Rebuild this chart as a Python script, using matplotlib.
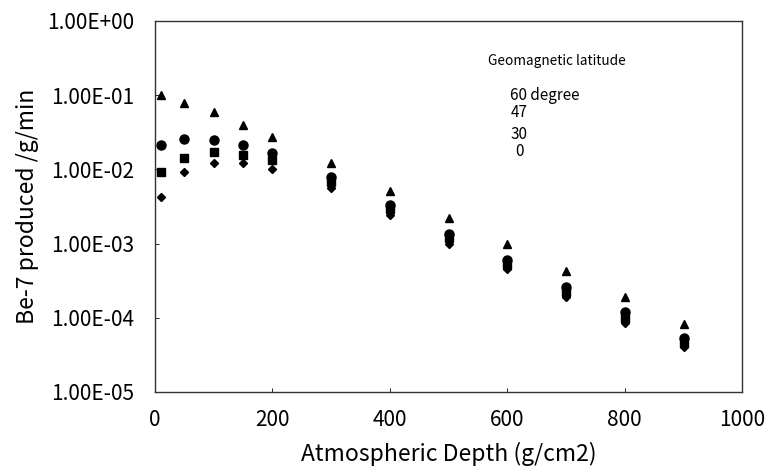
import matplotlib
matplotlib.use('Agg')
import matplotlib.pyplot as plt
from matplotlib.ticker import FixedLocator, FuncFormatter, NullLocator

plt.rcParams['font.family'] = ['Noto Sans CJK JP', 'DejaVu Sans']

# Data: Be-7 production vs atmospheric depth
depth = [10, 50, 100, 150, 200, 300, 400, 500, 600, 700, 800, 900]
lat60 = [0.1, 0.079, 0.059, 0.040, 0.0276, 0.0123, 0.0051, 0.0022, 0.001, 0.00042, 0.00019, 0.000083]
lat47 = [0.021, 0.0257, 0.025, 0.021, 0.0165, 0.0080, 0.0033, 0.00135, 0.0006, 0.00026, 0.000118, 0.000054]
lat30 = [0.0091, 0.0144, 0.017, 0.0155, 0.0135, 0.0068, 0.0029, 0.0012, 0.00052, 0.000225, 0.0001, 0.000046]
lat0 = [0.0042, 0.0091, 0.012, 0.012, 0.0102, 0.0056, 0.0024, 0.001, 0.00045, 0.000192, 0.000085, 0.000040]

yticks = [1e-5, 1e-4, 1e-3, 1e-2, 1e-1, 1e0]
xticks = [0, 200, 400, 600, 800, 1000]

fig = plt.figure(figsize=(7.69, 4.66), dpi=100)
ax = fig.add_axes([0.2016, 0.159, 0.7636, 0.796])

ax.plot(depth, lat60, linestyle='none', marker='^', color='black', markersize=6)
ax.plot(depth, lat47, linestyle='none', marker='o', color='black', markersize=6.5)
ax.plot(depth, lat30, linestyle='none', marker='s', color='black', markersize=5.5)
ax.plot(depth, lat0, linestyle='none', marker='D', color='black', markersize=4.5)

ax.set_yscale('log')
ax.set_ylim(1e-5, 1)
ax.set_xlim(0, 1000)
ax.yaxis.set_major_locator(FixedLocator(yticks))
ax.yaxis.set_minor_locator(NullLocator())
ax.yaxis.set_major_formatter(FuncFormatter(lambda v, p: '%.2E' % v))
ax.xaxis.set_major_locator(FixedLocator(xticks))

ax.tick_params(direction='in', length=3, width=0.6, labelsize=15)
ax.tick_params(axis='y', pad=15)
ax.tick_params(axis='x', pad=12)
for s in ax.spines.values():
    s.set_linewidth(1.0)
    s.set_color('#333333')

ax.set_xlabel('Atmospheric Depth (g/cm2)', fontsize=16.5, labelpad=8)
ax.set_ylabel('Be-7 produced /g/min', fontsize=16.5, labelpad=6)

# legend text (no symbols)
ax.text(0.685, 0.892, 'Geomagnetic latitude', transform=ax.transAxes,
        ha='center', va='center', fontsize=9.8)
ax.text(0.605, 0.80, '60 degree', transform=ax.transAxes, ha='left', va='center', fontsize=11)
ax.text(0.605, 0.752, '47', transform=ax.transAxes, ha='left', va='center', fontsize=11)
ax.text(0.605, 0.693, '30', transform=ax.transAxes, ha='left', va='center', fontsize=11)
ax.text(0.614, 0.647, '0', transform=ax.transAxes, ha='left', va='center', fontsize=11)

fig.savefig('out.png', dpi=100)
